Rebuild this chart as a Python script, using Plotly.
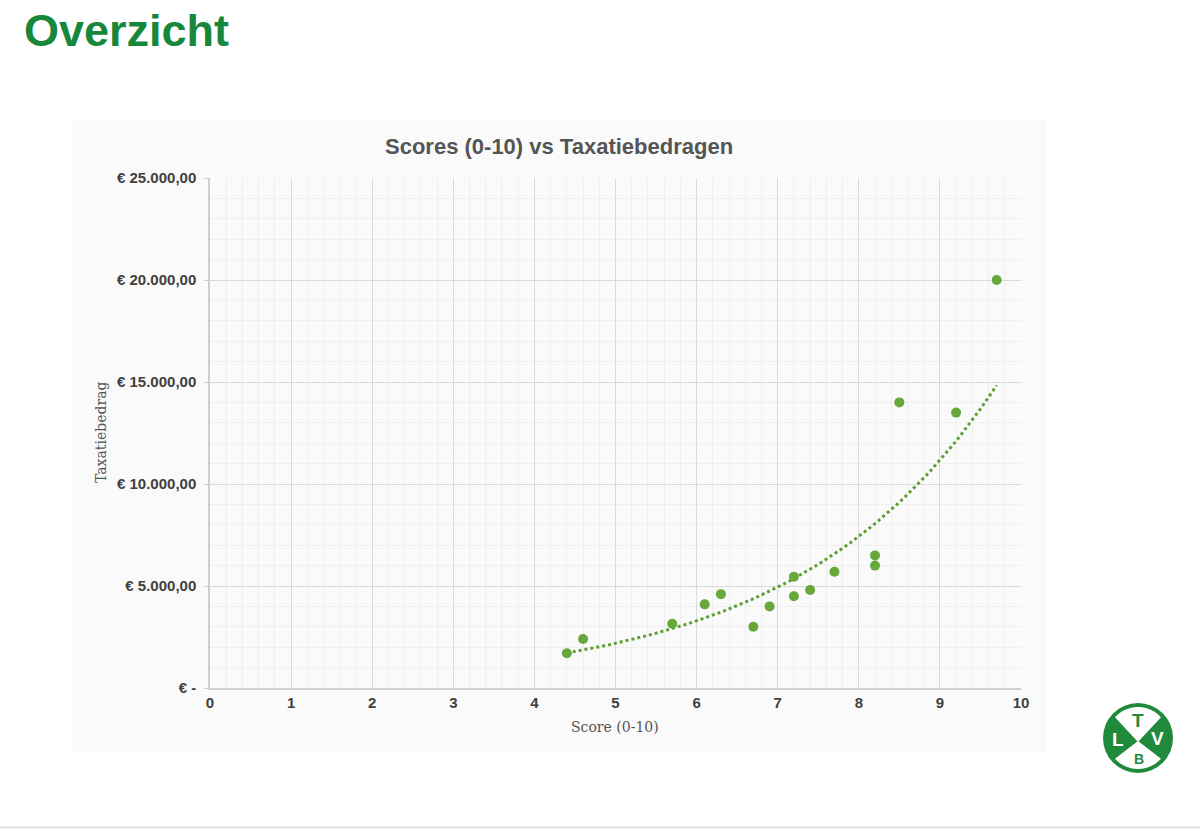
import numpy as np
import plotly.graph_objects as go

W, H = 1200, 829

scores = [4.4, 4.6, 5.7, 6.1, 6.3, 6.7, 6.9, 7.2, 7.2, 7.4, 7.7, 8.2, 8.2, 8.5, 9.2, 9.7]
amounts = [1700, 2400, 3150, 4100, 4600, 3000, 4000, 5450, 4500, 4800, 5700, 6500, 6000, 14000, 13500, 20000]

y_tickvals = [0, 5000, 10000, 15000, 20000, 25000]
y_ticktext = ["€ -", "€ 5.000,00", "€ 10.000,00", "€ 15.000,00", "€ 20.000,00", "€ 25.000,00"]
x_tickvals = list(range(0, 11))
x_ticktext = [str(v) for v in x_tickvals]

# exponential trendline (least squares on log y, as Excel does)
xs = np.array(scores, dtype=float)
ys = np.array(amounts, dtype=float)
b, lna = np.polyfit(xs, np.log(ys), 1)
tx = np.linspace(xs.min(), xs.max(), 80)
ty = np.exp(lna) * np.exp(b * tx)


def px(x):
    return x / W


def py(y):
    return 1 - y / H


GREEN = "#67a83c"
fig = go.Figure()
fig.add_trace(go.Scatter(x=tx, y=ty, mode="lines",
                         line=dict(color="#5e9e34", width=3, dash="dot"),
                         hoverinfo="skip", showlegend=False))
fig.add_trace(go.Scatter(x=scores, y=amounts, mode="markers",
                         marker=dict(color=GREEN, size=10, line=dict(width=0)),
                         showlegend=False))

axis_font = dict(family="Liberation Sans, Arial, sans-serif", size=15, color="#404040")
fig.update_layout(
    width=W, height=H,
    margin=dict(l=0, r=0, t=0, b=0, autoexpand=False),
    paper_bgcolor="white",
    plot_bgcolor="rgba(0,0,0,0)",
    xaxis=dict(domain=[px(210), px(1021)], range=[0, 10], tickvals=x_tickvals,
               ticktext=["<b>" + t + "</b>" for t in x_ticktext], automargin=False,
               showgrid=True, gridcolor="#d9d9d9", gridwidth=1,
               minor=dict(dtick=0.2, showgrid=True, gridcolor="#efefef", gridwidth=1),
               showline=True, linecolor="#cfcfcf", linewidth=1.5,
               zeroline=False, ticks="", tickfont=axis_font),
    yaxis=dict(domain=[py(688), py(178)], range=[0, 25000], tickvals=y_tickvals,
               ticktext=["<b>" + t + "</b>" for t in y_ticktext], automargin=False,
               showgrid=True, gridcolor="#d9d9d9", gridwidth=1,
               minor=dict(dtick=1000, showgrid=True, gridcolor="#efefef", gridwidth=1),
               showline=True, linecolor="#cfcfcf", linewidth=1.5,
               zeroline=False, ticks="outside", ticklen=4, tickcolor="#cfcfcf",
               ticklabelstandoff=5, tickfont=axis_font),
)

shapes = []
# chart container background
shapes.append(dict(type="rect", xref="paper", yref="paper", x0=px(72), x1=px(1046),
                   y0=py(753), y1=py(120), fillcolor="#fafafa", line=dict(width=0), layer="below"))
# bottom page line
shapes.append(dict(type="line", xref="paper", yref="paper", x0=0, x1=1, y0=py(827.5), y1=py(827.5),
                   line=dict(color="#e2e2e2", width=2)))

# logo
cx, cy, r = 1138, 738, 35
LOGO = "#1f8a3c"
shapes.append(dict(type="circle", xref="paper", yref="paper",
                   x0=px(cx - r), x1=px(cx + r), y0=py(cy + r), y1=py(cy - r),
                   fillcolor=LOGO, line=dict(width=0)))


def wedge(a0, a1, rad, ccx, ccy):
    pts = [(ccx, ccy)]
    for a in np.linspace(np.radians(a0), np.radians(a1), 24):
        pts.append((cx + rad * np.cos(a), cy - rad * np.sin(a)))
    return "M " + " L ".join(f"{px(x):.5f},{py(y):.5f}" for x, y in pts) + " Z"


shapes.append(dict(type="path", xref="paper", yref="paper", path=wedge(42, 138, 31, cx, cy + 4),
                   fillcolor="white", line=dict(width=0)))
shapes.append(dict(type="path", xref="paper", yref="paper", path=wedge(222, 318, 31, cx, cy + 3),
                   fillcolor="white", line=dict(width=0)))

annotations = [
    dict(text="<b>Overzicht</b>", x=px(22), y=py(30), xref="paper", yref="paper",
         xanchor="left", yanchor="middle", showarrow=False,
         font=dict(family="Liberation Sans, Arial, sans-serif", size=45, color="#17883b")),
    dict(text="<b>Scores (0-10) vs Taxatiebedragen</b>", x=px(559), y=py(147), xref="paper", yref="paper",
         xanchor="center", yanchor="middle", showarrow=False,
         font=dict(family="Liberation Sans, Arial, sans-serif", size=22, color="#555555")),
    dict(text="Score (0-10)", x=px(615), y=py(727), xref="paper", yref="paper",
         xanchor="center", yanchor="middle", showarrow=False,
         font=dict(family="DejaVu Serif, Liberation Serif, serif", size=14, color="#555555")),
    dict(text="Taxatiebedrag", x=px(101), y=py(433), xref="paper", yref="paper",
         xanchor="center", yanchor="middle", showarrow=False, textangle=-90,
         font=dict(family="DejaVu Serif, Liberation Serif, serif", size=14, color="#555555")),
    dict(text="<b>T</b>", x=px(cx), y=py(cy - 18), xref="paper", yref="paper",
         xanchor="center", yanchor="middle", showarrow=False,
         font=dict(family="Liberation Sans, Arial", size=19, color=LOGO)),
    dict(text="<b>B</b>", x=px(cx + 1), y=py(cy + 21), xref="paper", yref="paper",
         xanchor="center", yanchor="middle", showarrow=False,
         font=dict(family="Liberation Sans, Arial", size=14, color=LOGO)),
    dict(text="<b>L</b>", x=px(cx - 20), y=py(cy + 1), xref="paper", yref="paper",
         xanchor="center", yanchor="middle", showarrow=False,
         font=dict(family="Liberation Sans, Arial", size=19, color="white")),
    dict(text="<b>V</b>", x=px(cx + 19), y=py(cy), xref="paper", yref="paper",
         xanchor="center", yanchor="middle", showarrow=False,
         font=dict(family="Liberation Sans, Arial", size=19, color="white")),
]

fig.update_layout(shapes=shapes, annotations=annotations)
fig.write_html("out.html", config={"displayModeBar": False},
               post_script="document.body.style.margin='0px';")
